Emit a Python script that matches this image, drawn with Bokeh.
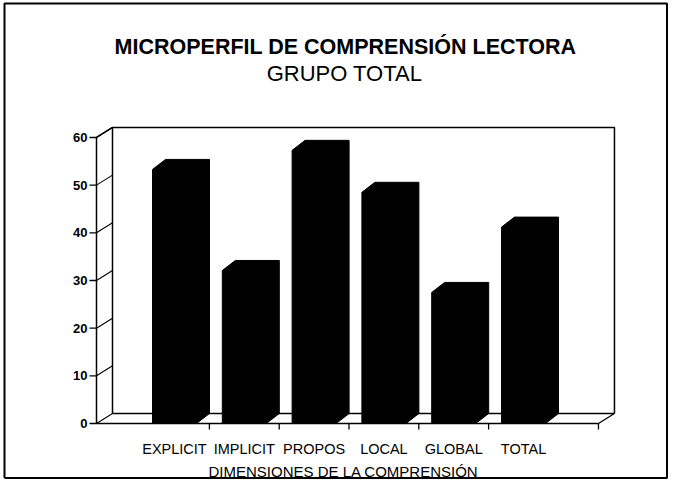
from bokeh.plotting import figure
from bokeh.embed import file_html
from bokeh.resources import INLINE
from bokeh.models import Range1d
from bokeh.core.properties import value

# ---------------- data ----------------
categories = ["EXPLICIT", "IMPLICIT", "PROPOS", "LOCAL", "GLOBAL", "TOTAL"]
scores = [53.3, 32.1, 57.3, 48.5, 27.5, 41.2]
y_ticks = [0, 10, 20, 30, 40, 50, 60]
y_tick_labels = ["0", "10", "20", "30", "40", "50", "60"]
title_text = "MICROPERFIL DE COMPRENSIÓN LECTORA"
subtitle_text = "GRUPO TOTAL"
x_title = "DIMENSIONES DE LA COMPRENSIÓN"

# ---------------- layout ----------------
W, H = 668, 479
X0PX, XUNIT = 174.0, 69.8      # canvas px of slot 1, px per slot
Y0PX, YUNIT = 423.0, 4.767     # canvas px of value 0, px per unit


def px2x(px):
    return 1 + (px - X0PX) / XUNIT


def px2v(py):
    return (Y0PX - py) / YUNIT


p = figure(width=W, height=H, output_backend="svg", toolbar_location=None,
           x_axis_type=None, y_axis_type=None, min_border=0,
           x_range=Range1d(px2x(0), px2x(W)),
           y_range=Range1d(px2v(H), px2v(0)))
p.outline_line_color = None
p.background_fill_color = "white"
p.border_fill_color = "white"
p.xgrid.visible = False
p.ygrid.visible = False

FONT = "Liberation Sans"
ymax = y_ticks[-1]
n = len(categories)
ax_x = px2x(96)                 # front vertical axis
wall_dx = 16 / XUNIT            # depth of the walls
dy = 10 / YUNIT                 # vertical depth offset
bar_dx = 13 / XUNIT             # depth of bars
half = 22 / XUNIT               # half width of front face
x_end = n + 1 + 0.074           # right end of the floor front edge

lc = "black"
# outer frame
p.line([px2x(4), px2x(4), px2x(666.5), px2x(666.5), px2x(4)],
       [px2v(477.5), px2v(3), px2v(3), px2v(477.5), px2v(477.5)],
       line_color=lc, line_width=2)
# back wall
p.line([ax_x + wall_dx, ax_x + wall_dx, x_end + wall_dx, x_end + wall_dx],
       [dy, ymax + dy, ymax + dy, dy], line_color=lc, line_width=1.5)
# floor
p.line([ax_x, x_end, x_end + wall_dx, ax_x + wall_dx],
       [0, 0, dy, dy], line_color=lc, line_width=1.3)
# front axis + top connector
p.line([ax_x, ax_x, ax_x + wall_dx], [0, ymax, ymax + dy], line_color=lc, line_width=1.5)
# tick marks and wall diagonals
tick_len = 7 / XUNIT
p.segment(x0=[ax_x - tick_len] * len(y_ticks), y0=y_ticks,
          x1=[ax_x] * len(y_ticks), y1=y_ticks, line_color=lc, line_width=1.3)
p.segment(x0=[ax_x] * len(y_ticks), y0=y_ticks,
          x1=[ax_x + wall_dx] * len(y_ticks), y1=[t + dy for t in y_ticks],
          line_color=lc, line_width=1.1)

# bottom ticks between categories + end
bt = [i + 0.5 for i in range(1, n)] + [x_end]
p.segment(x0=bt, y0=[0] * len(bt), x1=bt, y1=[-6 / YUNIT] * len(bt),
          line_color=lc, line_width=1.3)

# bars (3D silhouettes)
xs, ys = [], []
for i, v in enumerate(scores, start=1):
    xl, xr = i - half, i + half
    xs.append([xl, xl, xl + bar_dx, xr + bar_dx, xr + bar_dx, xr])
    ys.append([0, v, v + dy, v + dy, dy, 0])
p.patches(xs, ys, fill_color="black", line_color="black", line_width=1)

# y tick labels
p.text(x=[px2x(87)] * len(y_ticks), y=y_ticks, text=y_tick_labels,
       text_align="right", text_baseline="middle", text_font=value(FONT),
       text_font_style="bold", text_font_size="13px", text_color="black")

# category labels
p.text(x=list(range(1, n + 1)), y=[px2v(448)] * n, text=categories,
       text_align="center", text_baseline="middle", text_font=value(FONT),
       text_font_size="14.5px", text_color="black")

# axis title
p.text(x=[px2x(343)], y=[px2v(471)], text=[x_title], text_align="center",
       text_baseline="middle", text_font=value(FONT), text_font_size="15px",
       text_color="black")

# titles
p.text(x=[px2x(345)], y=[px2v(46)], text=[title_text], text_align="center",
       text_baseline="middle", text_font=value(FONT), text_font_style="bold",
       text_font_size="21.5px", text_color="black")
p.text(x=[px2x(344)], y=[px2v(73)], text=[subtitle_text], text_align="center",
       text_baseline="middle", text_font=value(FONT), text_font_size="22px",
       text_color="black")

open("out.html", "w").write(file_html(p, INLINE))
